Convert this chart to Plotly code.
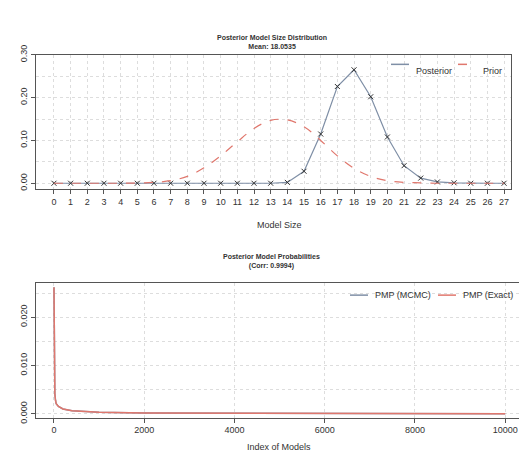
import plotly.graph_objects as go

model_size = list(range(28))
posterior = [0, 0, 0, 0, 0, 0, 0, 0, 0, 0, 0, 0, 0, 0, 0.002, 0.028, 0.115, 0.226,
             0.265, 0.202, 0.108, 0.041, 0.012, 0.003, 0.001, 0, 0, 0]
prior = [0, 0, 0, 0, 0, 0.0005, 0.002, 0.006, 0.016, 0.036, 0.064, 0.097, 0.128, 0.147,
         0.148, 0.132, 0.1, 0.064, 0.035, 0.016, 0.006, 0.002, 0.001, 0, 0, 0, 0, 0]

model_index = [1, 3, 5, 10, 20, 35, 50, 100, 200, 400, 700, 1000, 2000, 4000, 7000, 10000]
pmp_mcmc = [0.0262, 0.018, 0.013, 0.0075, 0.0042, 0.0028, 0.0021, 0.0015, 0.001, 0.0006,
            0.0004, 0.0003, 0.00015, 0.00007, 0.00003, 0.00001]
pmp_exact = [0.0262, 0.0175, 0.0125, 0.0072, 0.0041, 0.0027, 0.0021, 0.0015, 0.001, 0.0006,
             0.0004, 0.0003, 0.00015, 0.00007, 0.00003, 0.00001]

blue = "#7f8fa6"
red = "#e0776d"
font = "Liberation Sans, Arial, sans-serif"

fig = go.Figure()
fig.add_trace(go.Scatter(x=model_size, y=posterior, mode="lines+markers", name="Posterior",
                         line=dict(color=blue, width=1.2),
                         marker=dict(symbol="x-thin", size=5, color="#333",
                                     line=dict(width=1, color="#333")),
                         xaxis="x", yaxis="y"))
fig.add_trace(go.Scatter(x=model_size, y=prior, mode="lines", name="Prior",
                         line=dict(color=red, width=1.2, dash="dash", shape="spline"),
                         xaxis="x", yaxis="y"))
fig.add_trace(go.Scatter(x=model_index, y=pmp_mcmc, mode="lines", name="PMP (MCMC)",
                         line=dict(color=blue, width=1.5), xaxis="x2", yaxis="y2"))
fig.add_trace(go.Scatter(x=model_index, y=pmp_exact, mode="lines", name="PMP (Exact)",
                         line=dict(color=red, width=1.5), xaxis="x2", yaxis="y2"))

axis_common = dict(showline=True, linecolor="#555", mirror=True, ticks="outside",
                   tickcolor="#555", ticklen=4, gridcolor="#ddd", griddash="dot",
                   zeroline=False, tickfont=dict(size=9, color="#333"))

fig.update_layout(
    width=527, height=465, showlegend=False,
    margin=dict(l=0, r=0, t=0, b=0),
    plot_bgcolor="white", paper_bgcolor="white",
    font=dict(family=font, color="#333"),
    xaxis=dict(domain=[0.053, 0.954], anchor="y", range=[-1.08, 27.4],
               tickvals=model_size, **axis_common),
    yaxis=dict(domain=[0.619, 0.918], anchor="x", range=[-0.0136, 0.30],
               tickvals=[0, 0.1, 0.2, 0.3], tickformat=".2f", tickangle=-90, **axis_common),
    xaxis2=dict(domain=[0.053, 0.972], anchor="y2", range=[-399, 10333],
                tickvals=[0, 2000, 4000, 6000, 8000, 10000], tickformat="d", **axis_common),
    yaxis2=dict(domain=[0.11, 0.409], anchor="x2", range=[-0.0008, 0.027],
                tickvals=[0, 0.01, 0.02], tickformat=".3f", tickangle=-90, **axis_common),
)
# minor gridlines at halves like R's grid()
fig.update_yaxes(minor=dict(showgrid=True, gridcolor="#ddd", griddash="dot", dtick=0.05), selector=dict(anchor="x"))
fig.update_yaxes(minor=dict(showgrid=True, gridcolor="#ddd", griddash="dot", dtick=0.005), selector=dict(anchor="x2"))

ann = [
    dict(x=0.5, y=1 - 14 / 465, text="<b>Posterior Model Size Distribution<br>Mean: 18.0535</b>", font=dict(size=7)),
    dict(x=0.5, y=1 - 252 / 465, text="<b>Posterior Model Probabilities<br>(Corr: 0.9994)</b>", font=dict(size=7)),
    dict(x=0.515, y=1 - 214 / 465, text="Model Size", font=dict(size=9)),
    dict(x=0.515, y=1 - 452 / 465, text="Index of Models", font=dict(size=9)),
]
for a in ann:
    fig.add_annotation(xref="paper", yref="paper", showarrow=False, **a)

# legends drawn as annotations with line samples
legend_items = [
    (383, 48, blue, "solid", "Posterior"),
    (450, 48, red, "dash", "Prior"),
    (342, 287, blue, "solid", "PMP (MCMC)"),
    (430, 287, red, "solid", "PMP (Exact)"),
]
for x0, y0, c, d, label in legend_items:
    fig.add_shape(type="line", xref="paper", yref="paper",
                  x0=x0 / 527, x1=(x0 + 18) / 527, y0=1 - y0 / 465, y1=1 - y0 / 465,
                  line=dict(color=c, width=1.5, dash=d))
    fig.add_annotation(xref="paper", yref="paper", x=(x0 + 23) / 527, y=1 - y0 / 465,
                       xanchor="left", showarrow=False, text=label, font=dict(size=9))

fig.write_html("out.html")
